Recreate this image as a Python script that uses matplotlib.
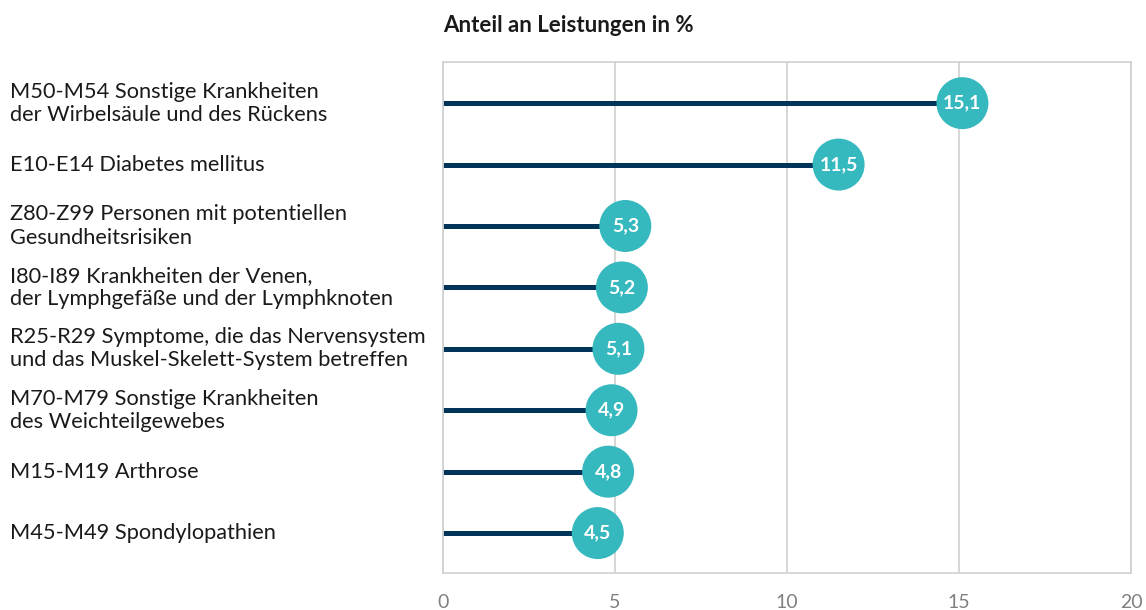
import matplotlib.pyplot as plt
from matplotlib.transforms import blended_transform_factory

plt.rcParams['font.family'] = ['Lato', 'DejaVu Sans']

categories = [
    'M50-M54 Sonstige Krankheiten\nder Wirbelsäule und des Rückens',
    'E10-E14 Diabetes mellitus',
    'Z80-Z99 Personen mit potentiellen\nGesundheitsrisiken',
    'I80-I89 Krankheiten der Venen,\nder Lymphgefäße und der Lymphknoten',
    'R25-R29 Symptome, die das Nervensystem\nund das Muskel-Skelett-System betreffen',
    'M70-M79 Sonstige Krankheiten\ndes Weichteilgewebes',
    'M15-M19 Arthrose',
    'M45-M49 Spondylopathien',
]
values = [15.1, 11.5, 5.3, 5.2, 5.1, 4.9, 4.8, 4.5]
xticks = [0, 5, 10, 15, 20]

navy = '#003559'
teal = '#35b8be'
grid = '#d0d0d0'

fig = plt.figure(figsize=(11.46, 6.10), dpi=100)
ax = fig.add_axes([443 / 1146, 1 - 573 / 610, (1131 - 443) / 1146, (573 - 62) / 610])

pos = list(range(len(values)))
ax.hlines(pos, 0, values, color=navy, linewidth=3.6, zorder=2)
ax.scatter(values, pos, s=1400, color=teal, edgecolor='none', zorder=3)
for y, v in zip(pos, values):
    ax.text(v, y, f'{v:.1f}'.replace('.', ','), ha='center', va='center',
            color='white', fontsize=14, fontweight='bold', zorder=4)

ax.set_xlim(0, 20)
ax.set_ylim(7.65, -0.67)
ax.set_xticks(xticks)
ax.set_xticklabels([str(t) for t in xticks], color='#808080', fontsize=14)
ax.tick_params(axis='x', length=0, pad=15)
ax.set_yticks([])
ax.grid(axis='x', color=grid, linewidth=1.2, zorder=0)
for s in ax.spines.values():
    s.set_color(grid)
    s.set_linewidth(1.2)

# category labels, left-aligned at the figure edge
trans = blended_transform_factory(fig.transFigure, ax.transData)
for y, c in zip(pos, categories):
    ax.text(10 / 1146, y, c, transform=trans, ha='left', va='center',
            fontsize=15.7, color='#1a1a1a', linespacing=1.2)

fig.text(443 / 1146, 1 - 25 / 610, 'Anteil an Leistungen in %', ha='left', va='center',
         fontsize=16, fontweight='bold', color='#1a1a1a')

fig.savefig('out.png', dpi=100)
